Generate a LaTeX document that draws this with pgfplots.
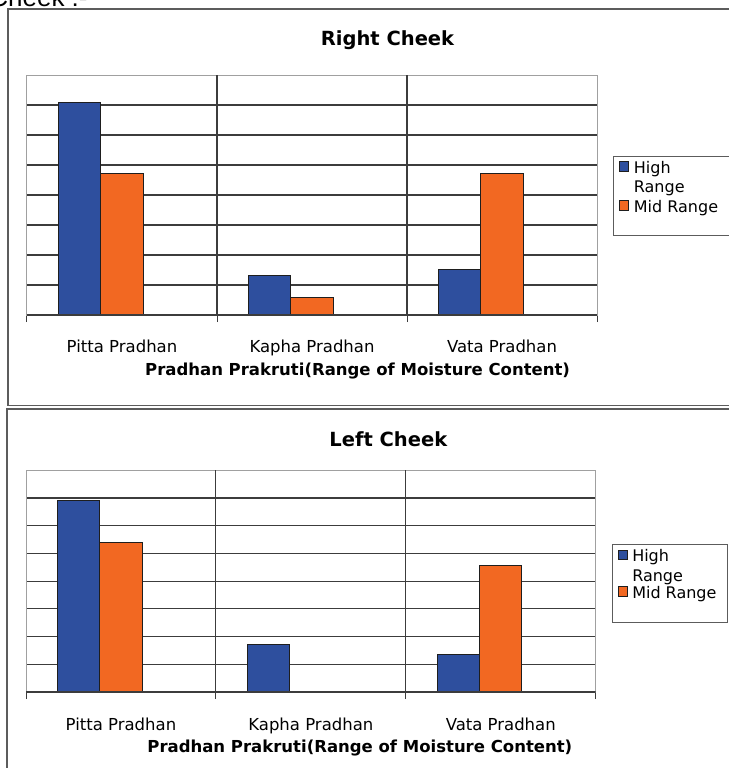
\documentclass[border=0pt]{standalone}
\usepackage{fontspec}
\setmainfont{DejaVu Sans}
\newfontfamily\headfont{Liberation Sans}
\usepackage{pgfplots}
\pgfplotsset{compat=1.18}

\definecolor{barblue}{HTML}{2E4F9E}
\definecolor{barorange}{HTML}{F26822}
\definecolor{barline}{HTML}{1E1E1E}
\definecolor{gridgray}{HTML}{3C3C3C}
\definecolor{boxgray}{HTML}{A0A0A0}
\definecolor{framegray}{HTML}{5C5C5C}

\pgfplotsset{
  cheek/.style={
    scale only axis,
    anchor=south west,
    ybar, bar width=42.2pt,
    xmin=-0.5, xmax=2.5, ymin=0, ymax=8,
    xtick={0,1,2},
    xticklabels={Pitta Pradhan, Kapha Pradhan, Vata Pradhan},
    major tick length=0pt,
    minor xtick={-0.5,0.5,1.5,2.5},
    minor tick length=7pt,
    tick align=outside,
    tick pos=left,
    xtick style={draw=gridgray, line width=1pt},
    ytick={1,...,7}, yticklabels={},
    ytick style={draw=none},
    ymajorgrids,
    major grid style={draw=gridgray, line width=1.1pt},
    extra x ticks={0.5,1.5}, extra x tick labels={},
    extra x tick style={grid=major, major tick length=0pt},
    axis line style={draw=boxgray, line width=1pt},
    ticklabel style={font=\fontsize{16.5}{19}\selectfont, text=black},
    label style={font=\bfseries\fontsize{16.5}{19}\selectfont},
    title style={font=\bfseries\fontsize{19.5}{22}\selectfont, anchor=base},
    legend image code/.code={
      \draw[#1, draw=barline, line width=0.7pt] (0pt,2pt) rectangle (9pt,11.5pt);
    },
    legend style={
      anchor=north west, draw=framegray, line width=0.8pt, fill=white,
      font=\fontsize{16}{19.5}\selectfont,
      inner xsep=5.5pt, inner ysep=5pt,
      nodes={inner sep=0pt, anchor=base west, text height=12pt, text depth=4pt},
      column sep=5pt,
    },
    xlabel={Pradhan Prakruti(Range of Moisture Content)},
  },
  % blue bar sits one bar width left of the category centre, orange on it
  highbar/.style={fill=barblue, draw=barline, line width=0.9pt, bar shift=-42.2pt},
  midbar/.style={fill=barorange, draw=barline, line width=0.9pt, bar shift=0pt},
}

\begin{document}
\begin{tikzpicture}
% chart frames
\draw[framegray, line width=1.4pt] (8pt,-9pt) rectangle (745pt,-405.5pt);
\draw[framegray, line width=1.4pt] (7pt,-409pt) rectangle (745pt,-785pt);
\node[anchor=base west, inner sep=0pt, font=\headfont\fontsize{26}{30}\selectfont] at (-10.8pt,-6.5pt) {Cheek :-};

% Right cheek
\begin{axis}[cheek,
  at={(27pt,-315pt)}, width=570pt, height=240pt,
  title={Right Cheek},
  title style={at={(axis description cs:0.6325,1)}, yshift=24pt},
  xticklabel style={anchor=base, yshift=-37.5pt},
  xlabel style={at={(axis description cs:0.58,0)}, anchor=base, yshift=-60pt},
  legend style={at={(1.0286,0.664)}, row sep=3.5pt},
]
\addplot[highbar] coordinates {(0,7.08) (1,1.33) (2,1.53)};
\addlegendentry{High}
\addlegendimage{empty legend}
\addlegendentry{Range}
\addplot[midbar] coordinates {(0,4.71) (1,0.59) (2,4.71)};
\addlegendentry[text depth=18pt]{Mid Range\hspace*{5.5pt}}
\draw[gridgray, line width=1.2pt] (rel axis cs:0,0) -- (rel axis cs:1,0);
\end{axis}

% Left cheek
\begin{axis}[cheek,
  at={(26pt,-692pt)}, width=569.7pt, height=221.7pt,
  title={Left Cheek},
  title style={at={(axis description cs:0.636,1)}, yshift=18pt},
  xticklabel style={anchor=base, yshift=-38.7pt},
  xlabel style={at={(axis description cs:0.586,0)}, anchor=base, yshift=-60pt},
  legend style={at={(1.028,0.666)}, row sep=0.7pt},
]
\addplot[highbar] coordinates {(0,6.90) (1,1.71) (2,1.36)};
\addlegendentry[text depth=7pt]{High}
\addlegendimage{empty legend}
\addlegendentry{Range}
\addplot[midbar] coordinates {(0,5.39) (2,4.58)};
\addlegendentry[text depth=19pt]{Mid Range\hspace*{5.5pt}}
\draw[gridgray, line width=1.2pt] (rel axis cs:0,0) -- (rel axis cs:1,0);
\end{axis}

\pgfresetboundingbox
\useasboundingbox (0pt,0pt) rectangle (728pt,-768pt);
\end{tikzpicture}
\end{document}
